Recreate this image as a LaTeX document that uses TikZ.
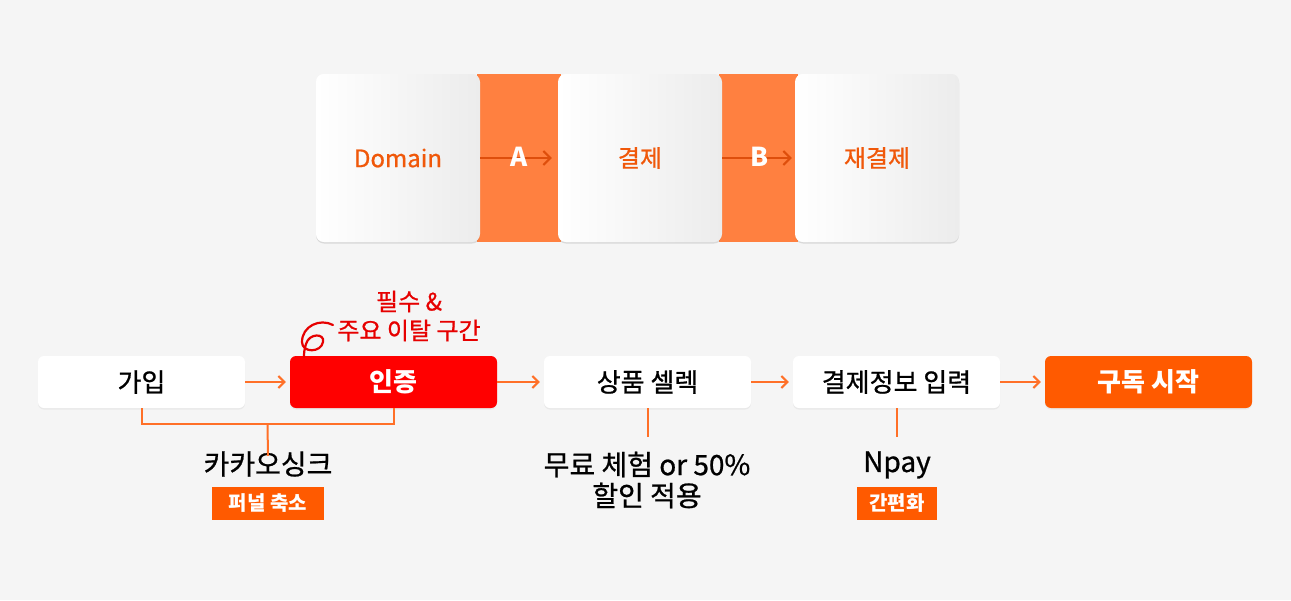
\documentclass[tikz,border=0pt]{standalone}
\usepackage{fontspec}
\setmainfont{Noto Sans CJK KR}
\newfontfamily\medfont{Noto Sans CJK KR}[FakeBold=0.8]
\usetikzlibrary{arrows.meta,calc,shadows}
\definecolor{bg}{RGB}{245,245,245}
\definecolor{band}{RGB}{255,128,64}
\definecolor{darkor}{RGB}{222,78,12}
\definecolor{txtor}{RGB}{240,88,10}
\definecolor{lineor}{RGB}{255,112,40}
\definecolor{boxor}{RGB}{255,90,0}
\definecolor{redbox}{RGB}{255,0,0}
\definecolor{redtxt}{RGB}{230,0,0}
\definecolor{cardgray}{RGB}{236,236,236}
\newcommand{\fsz}[1]{\fontsize{#1}{#1}\selectfont}
\tikzset{
  card/.style={rounded corners=8pt, minimum width=164pt, minimum height=168pt,
    left color=white, right color=cardgray, text=txtor, font=\medfont\fsz{24},
    drop shadow={opacity=0.12, shadow xshift=0pt, shadow yshift=-1.5pt}},
  flowbox/.style={rounded corners=6pt, minimum width=207pt, minimum height=52pt,
    font=\medfont\fsz{26}, drop shadow={opacity=0.10, shadow xshift=0pt, shadow yshift=-1.5pt}},
  wbox/.style={flowbox, fill=white, text=black},
  rbox/.style={flowbox, fill=redbox, text=white, font=\bfseries\fsz{26}},
  obox/.style={flowbox, fill=boxor, text=white, font=\bfseries\fsz{26}},
  toparrow/.style={draw=darkor, line width=2pt, -{Straight Barb[length=7pt,width=14pt,line width=2pt]}},
  flowarrow/.style={draw=lineor, line width=2pt, shorten >=4pt, -{Straight Barb[length=6pt,width=12pt,line width=2pt]}},
  oline/.style={draw=lineor, line width=2pt},
  tag/.style={fill=boxor, text=white, font=\bfseries\fsz{20}, inner xsep=2pt, minimum height=33pt},
  note/.style={text=black, font=\medfont\fsz{28}, align=center},
  toplabel/.style={text=white, font=\bfseries\fsz{26}},
  warnnote/.style={text=redtxt, align=center, inner sep=0pt, font=\medfont\fontsize{24}{29}\selectfont},
}
\begin{document}
\begin{tikzpicture}[x=1pt,y=-1pt]
\useasboundingbox (0,0) rectangle (1291,600);
\fill[bg] (0,0) rectangle (1291,600);

% top cards (drawn once to get anchors, band, then again on top)
\node[card] (dom) at (398,158) {Domain};
\node[card] (pay) at (640,158) {결제};
\node[card] (repay) at (877,158) {재결제};
\fill[band] ($(dom.north east)+(-3,0)$) rectangle ($(pay.south west)+(3,0)$);
\fill[band] ($(pay.north east)+(-3,0)$) rectangle ($(repay.south west)+(3,0)$);
\node[card] (pay2) at (pay) {결제};
\node[card] (repay2) at (repay) {재결제};
\node[card] (dom2) at (dom) {Domain};
\draw[toparrow] (dom2.east) -- ($(pay2.west)+(-6,0)$) node[midway, toplabel, xshift=3pt, yshift=1pt] (la) {A};
\draw[toparrow] (pay2.east) -- ($(repay2.west)+(-3,0)$) node[midway, toplabel, xshift=3pt, yshift=1pt] (lb) {B};

% flow row
\node[wbox] (join) at (141.5,382) {가입};
\node[rbox] (auth) at (393.5,382) {인증};
\node[wbox] (prod) at (647.5,382) {상품 셀렉};
\node[wbox] (info) at (896.5,382) {결제정보 입력};
\node[obox] (sub) at (1148.5,382) {구독 시작};

\draw[flowarrow] (join.east) -- (auth.west);
\draw[flowarrow] (auth.east) -- (prod.west);
\draw[flowarrow] (prod.east) -- (info.west);
\draw[flowarrow] (info.east) -- (sub.west);

% annotation
\node[warnnote] (warn) at (409,316) {필수 \&\\ 주요 이탈 구간};
\draw[draw=redtxt, line width=2.2pt, line cap=round]
  (333,325) .. controls (320,318) and (302,326) .. (302,342)
  .. controls (302,353) and (321,353) .. (323,342)
  .. controls (325,333) and (309,333) .. (306,344)
  .. controls (304,350) and (304,354) .. (304,357);

% bracket
\coordinate (brl) at ($(join.south)+(0,16)$);
\coordinate (brm) at ($(join.south)!0.5!(auth.south)+(0,16)$);
\draw[oline] (join.south) -- (brl) -| (auth.south);
\node[note] (kakao) at (268,464) {카카오싱크};
\draw[oline] (brm) -- ($(kakao.north)+(0,8)$);
\node[tag, minimum width=112pt] (funnel) at (268,503.5) {퍼널 축소};

% product
\node[note, font=\medfont\fontsize{28}{31}\selectfont] (free) at (647,480) {무료 체험 or 50\%\\할인 적용};
\draw[oline] (prod.south) -- ($(prod.south)+(0,29)$) coordinate (pe);

% payment info
\node[note] (npay) at (897,465) {Npay};
\draw[oline] (info.south) -- ($(info.south)+(0,29)$) coordinate (ie);
\node[tag, minimum width=80pt] (easy) at (897,503.5) {간편화};
\end{tikzpicture}
\end{document}
